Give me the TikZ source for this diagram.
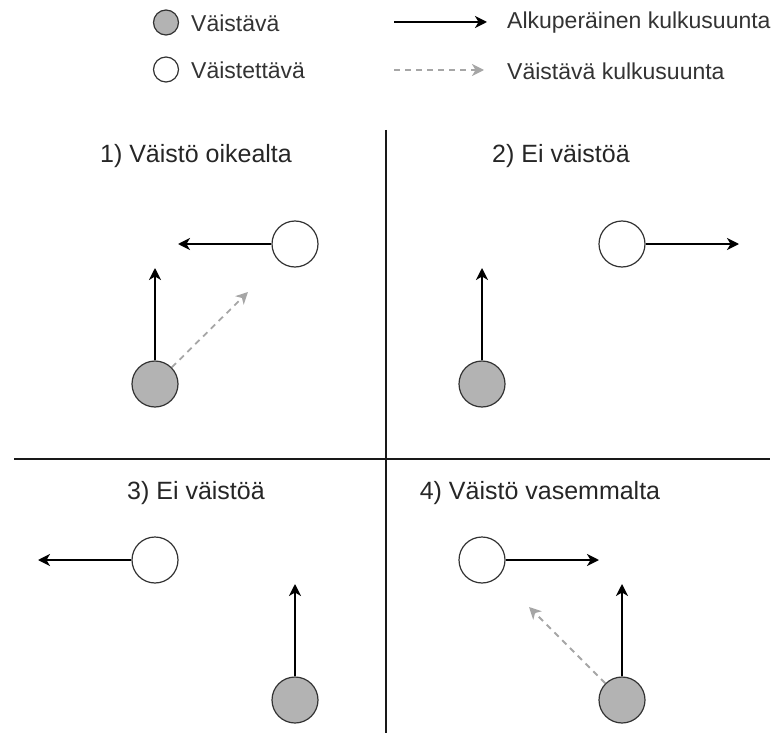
\documentclass[tikz,border=0pt]{standalone}
\usepackage{fontspec}
\setmainfont{Liberation Sans}
\usetikzlibrary{arrows.meta}
\definecolor{fillgrey}{HTML}{B3B3B3}
\definecolor{edgegrey}{HTML}{333333}
\definecolor{dashgrey}{HTML}{A6A6A6}
\tikzset{
  mover/.style={circle, draw=edgegrey, line width=1.2pt, fill=fillgrey, minimum size=46pt, inner sep=0pt},
  keeper/.style={circle, draw=edgegrey, line width=1.2pt, fill=white, minimum size=46pt, inner sep=0pt},
  legmover/.style={mover, minimum size=25pt},
  legkeeper/.style={keeper, minimum size=25pt},
  tip/.style={-{Stealth[length=12pt, width=12pt, inset=3.5pt]}},
  orig/.style={draw=black, line width=1.8pt, tip},
  swerve/.style={draw=dashgrey, line width=1.8pt, dash pattern=on 6pt off 5pt, tip},
  divider/.style={draw=black!90, line width=1.6pt},
  title/.style={font=\fontsize{25}{30}\selectfont, text=black!85, inner sep=0pt},
  legtext/.style={font=\fontsize{23}{27}\selectfont, text=black!80, anchor=west, inner sep=0pt},
}
\begin{document}
\begin{tikzpicture}[x=1pt, y=-1pt]
  \useasboundingbox (0,0) rectangle (777,733);

  % legend
  \node[legmover] (lg) at (166,22.5) {};
  \node[legtext] (lgt) at (191,23) {Väistävä};
  \node[legkeeper] (lw) at (166,69.5) {};
  \node[legtext] (lwt) at (191,70) {Väistettävä};
  \coordinate (la1) at (394,22);
  \coordinate (la2) at (487,22);
  \draw[orig] (la1) -- (la2);
  \node[legtext] (lat) at (507,23) {Alkuperäinen kulkusuunta};
  \coordinate (lb1) at (394,70);
  \coordinate (lb2) at (484,70);
  \draw[swerve] (lb1) -- (lb2);
  \node[legtext] (lbt) at (507,71) {Väistävä kulkusuunta};

  % dividers
  \coordinate (vtop) at (386,130);
  \coordinate (vbot) at (386,733);
  \coordinate (hl) at (14,459);
  \coordinate (hr) at (770,459);
  \draw[divider] (vtop) -- (vbot);
  \draw[divider] (hl) -- (hr);

  % titles
  \node[title] (t1) at (196,156) {1) Väistö oikealta};
  \node[title] (t2) at (561,156) {2) Ei väistöä};
  \node[title] (t3) at (196,493) {3) Ei väistöä};
  \node[title] (t4) at (540,493) {4) Väistö vasemmalta};

  % panel 1
  \node[keeper] (w1) at (295,244) {};
  \node[mover] (g1) at (155,384) {};
  \coordinate (w1e) at (178,244);
  \coordinate (g1e) at (155,268);
  \coordinate (g1s) at (248,292);
  \draw[orig] (w1) -- (w1e);
  \draw[orig] (g1) -- (g1e);
  \draw[swerve] (g1) -- (g1s);

  % panel 2
  \node[keeper] (w2) at (622,244) {};
  \node[mover] (g2) at (482,384) {};
  \coordinate (w2e) at (739,244);
  \coordinate (g2e) at (482,268);
  \draw[orig] (w2) -- (w2e);
  \draw[orig] (g2) -- (g2e);

  % panel 3
  \node[keeper] (w3) at (155,560) {};
  \node[mover] (g3) at (295,700) {};
  \coordinate (w3e) at (38,560);
  \coordinate (g3e) at (295,584);
  \draw[orig] (w3) -- (w3e);
  \draw[orig] (g3) -- (g3e);

  % panel 4
  \node[keeper] (w4) at (482,560) {};
  \node[mover] (g4) at (622,700) {};
  \coordinate (w4e) at (599,560);
  \coordinate (g4e) at (622,584);
  \coordinate (g4s) at (529,607);
  \draw[orig] (w4) -- (w4e);
  \draw[orig] (g4) -- (g4e);
  \draw[swerve] (g4) -- (g4s);
\end{tikzpicture}
\end{document}
